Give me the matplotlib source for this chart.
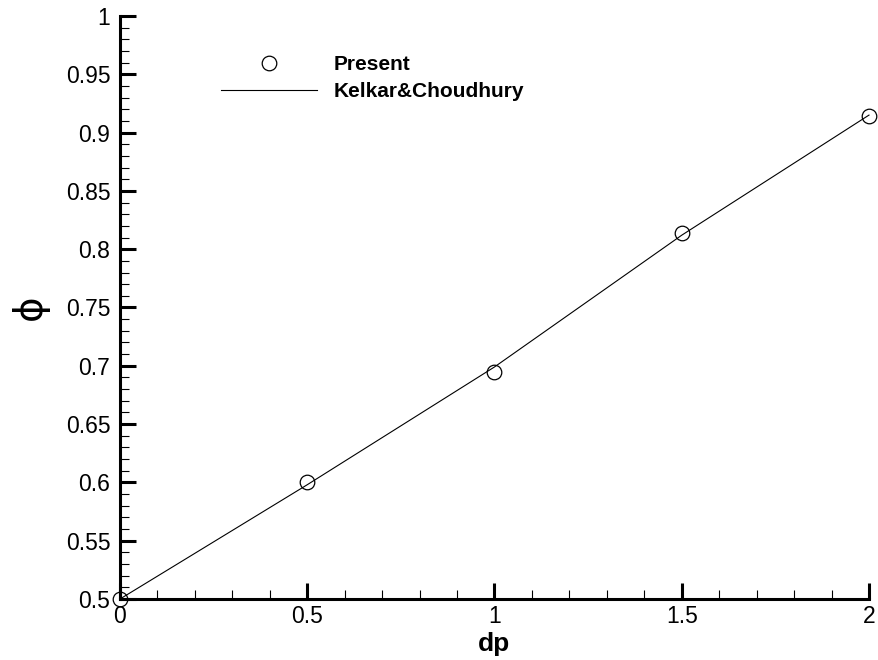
import matplotlib
matplotlib.use('Agg')
import matplotlib.pyplot as plt
from matplotlib.ticker import MultipleLocator, FormatStrFormatter

plt.rcParams['font.family'] = ['Liberation Sans', 'DejaVu Sans']

# Present results (circles)
dp_present = [0.0, 0.5, 1.0, 1.5, 2.0]
phi_present = [0.5, 0.6, 0.695, 0.814, 0.914]

# Kelkar & Choudhury (solid line)
dp_kelkar = [0.0, 0.5, 1.0, 1.5, 2.0]
phi_kelkar = [0.5, 0.598, 0.699, 0.812, 0.915]

fig = plt.figure(figsize=(8.79, 6.6), dpi=100)
ax = fig.add_axes([0.1365, 0.0924, 0.8521, 0.8834])

ax.plot(dp_present, phi_present, 'o', markersize=10.5, markerfacecolor='none',
        markeredgecolor='black', markeredgewidth=0.9, label='Present', clip_on=False, zorder=3)
ax.plot(dp_kelkar, phi_kelkar, '-', color='black', linewidth=0.8,
        label='Kelkar&Choudhury', clip_on=False)

ax.set_xlim(0, 2)
ax.set_ylim(0.5, 1)

ax.spines['top'].set_visible(False)
ax.spines['right'].set_visible(False)
ax.spines['left'].set_linewidth(2.2)
ax.spines['bottom'].set_linewidth(2.2)

ax.xaxis.set_major_locator(MultipleLocator(0.5))
ax.xaxis.set_minor_locator(MultipleLocator(0.1))
ax.yaxis.set_major_locator(MultipleLocator(0.05))
ax.yaxis.set_minor_locator(MultipleLocator(0.01))
ax.xaxis.set_major_formatter(FormatStrFormatter('%g'))
ax.yaxis.set_major_formatter(FormatStrFormatter('%g'))

ax.tick_params(which='major', direction='in', length=11.5, width=2.2, labelsize=16.5)
ax.tick_params(which='minor', direction='in', length=6.5, width=0.8)
ax.tick_params(axis='y', which='major', pad=7)
ax.tick_params(axis='x', which='major', pad=4)

ax.set_xlabel('dp', fontsize=19, fontweight='bold')
ax.xaxis.set_label_coords(0.5, -0.057)
ax.set_ylabel('ϕ', fontsize=28, family=['DejaVu Sans'])
ax.yaxis.set_label_coords(-0.095, 0.5)

leg = ax.legend(loc='upper left', bbox_to_anchor=(0.11, 0.965), frameon=False,
                handlelength=4.6, handletextpad=0.8, labelspacing=0.4,
                prop={'size': 15, 'weight': 'bold'})

plt.savefig('out.png', dpi=100)
